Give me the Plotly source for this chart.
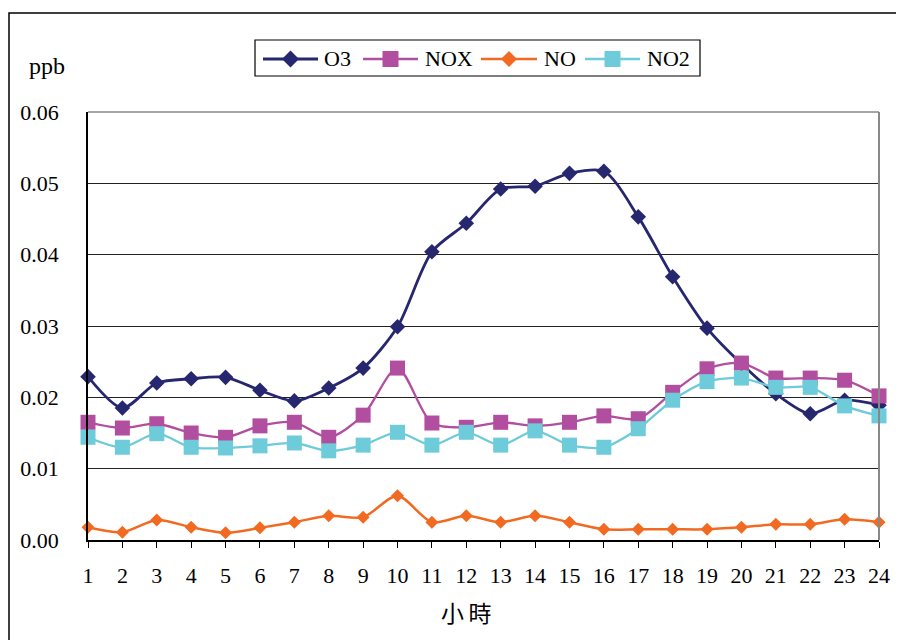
import plotly.graph_objects as go

hours = list(range(1, 25))
hour_labels = [str(h) for h in hours]
o3 = [0.0229, 0.0185, 0.0220, 0.0226, 0.0228, 0.0210, 0.0195, 0.0213, 0.0241, 0.0299,
      0.0404, 0.0444, 0.0492, 0.0496, 0.0514, 0.0517, 0.0453, 0.0369, 0.0297, 0.0247,
      0.0205, 0.0177, 0.0196, 0.0189]
nox = [0.0165, 0.0157, 0.0163, 0.0150, 0.0144, 0.0160, 0.0165, 0.0144, 0.0175, 0.0241,
       0.0164, 0.0158, 0.0165, 0.0160, 0.0165, 0.0174, 0.0170, 0.0207, 0.0240, 0.0248,
       0.0227, 0.0227, 0.0224, 0.0202]
no = [0.0018, 0.0011, 0.0028, 0.0018, 0.0010, 0.0017, 0.0025, 0.0034, 0.0032, 0.0062,
      0.0025, 0.0034, 0.0025, 0.0034, 0.0025, 0.0015, 0.0015, 0.0015, 0.0015, 0.0018,
      0.0022, 0.0022, 0.0029, 0.0025]
no2 = [0.0144, 0.0130, 0.0149, 0.0130, 0.0129, 0.0132, 0.0136, 0.0125, 0.0133, 0.0151,
       0.0133, 0.0151, 0.0133, 0.0153, 0.0133, 0.0130, 0.0156, 0.0196, 0.0222, 0.0227,
       0.0214, 0.0214, 0.0188, 0.0174]
y_ticks = [0.00, 0.01, 0.02, 0.03, 0.04, 0.05, 0.06]
y_tick_labels = ["0.00", "0.01", "0.02", "0.03", "0.04", "0.05", "0.06"]
series_names = ["O3", "NOX", "NO", "NO2"]

series = [
    (series_names[0], o3, "#27276f", "diamond", 12, 2.8),
    (series_names[1], nox, "#b24ea0", "square", 15, 2.3),
    (series_names[2], no, "#f26a22", "diamond", 10, 2.5),
    (series_names[3], no2, "#6ecbd9", "square", 15, 2.3),
]

# page body has an 8px margin: figure origin sits at (8, 8) of the screenshot
OFF = 8
W, H = 904 - OFF, 640 - OFF
L, R, T, B = 88 - OFF, 25, 112 - OFF, 100
pw = W - L - R
ph = H - T - B


def px(xp, yp):
    # screenshot pixel -> paper fraction
    return (xp - OFF - L) / pw, (H - B - (yp - OFF)) / ph


fig = go.Figure()
for name, vals, color, sym, size, lw in series:
    fig.add_trace(go.Scatter(
        x=hours, y=vals, name=name, mode="lines+markers",
        line=dict(color=color, width=lw, shape="spline", smoothing=0.8),
        marker=dict(symbol=sym, size=size, color=color),
        cliponaxis=False, showlegend=False,
    ))

serif = "Liberation Serif, Times New Roman, serif"
fig.update_layout(
    width=W, height=H,
    paper_bgcolor="white", plot_bgcolor="white",
    margin=dict(l=L, r=R, t=T, b=B),
    font=dict(family=serif, size=22, color="black"),
    showlegend=False,
    xaxis=dict(
        range=[1, 24], tickmode="array", tickvals=hours, ticktext=hour_labels,
        showgrid=False, zeroline=False,
        showline=True, linecolor="black", linewidth=1.5, mirror=False,
        ticks="outside", ticklen=6, tickcolor="black",
        ticklabelstandoff=9,
        tickfont=dict(family=serif, size=22),
    ),
    yaxis=dict(
        range=[0, 0.06], tickmode="array", tickvals=y_ticks, ticktext=y_tick_labels,
        showgrid=True, gridcolor="#222222", gridwidth=1, zeroline=False,
        showline=True, linecolor="black", linewidth=1.5,
        ticks="", ticklabelstandoff=23,
        tickfont=dict(family=serif, size=22),
    ),
)

ax, ay = px(47, 66)
bx, by = px(466, 612)
fig.add_annotation(text="ppb", x=ax, y=ay, xref="paper", yref="paper", showarrow=False,
                   xanchor="center", yanchor="middle", font=dict(family=serif, size=24))
fig.add_annotation(text="小\u2009時", x=bx, y=by, xref="paper", yref="paper", showarrow=False,
                   xanchor="center", yanchor="middle",
                   font=dict(family="Noto Sans CJK TC", size=23))

# plot-area right/top border and outer frame
fig.add_shape(type="line", xref="paper", yref="paper", x0=1, x1=1, y0=0, y1=1,
              line=dict(color="#888888", width=2))
fig.add_shape(type="line", xref="paper", yref="paper", x0=0, x1=1, y0=1, y1=1,
              line=dict(color="#888888", width=1.5))
fx0, fy0 = px(9, 13)
fx1, fy1 = px(915, 660)
fig.add_shape(type="rect", xref="paper", yref="paper", x0=fx0, x1=fx1, y0=fy1, y1=fy0,
              line=dict(color="black", width=1.5), layer="below")

# custom legend (Excel style: long line through marker)
bx0, by0 = px(255, 40)
bx1, by1 = px(700, 76)
fig.add_shape(type="rect", xref="paper", yref="paper", x0=bx0, x1=bx1, y0=by1, y1=by0,
              line=dict(color="black", width=1.2), fillcolor="white")
leg_y = 59
leg_items = [(263, 318, 322), (363, 418, 423), (481, 537, 542), (585, 640, 645)]
for (name, _, color, sym, size, lw), (x0p, x1p, tx) in zip(series, leg_items):
    lx0, ly = px(x0p, leg_y)
    lx1, _ = px(x1p, leg_y)
    fig.add_shape(type="line", xref="paper", yref="paper", x0=lx0, x1=lx1, y0=ly, y1=ly,
                  line=dict(color=color, width=lw))
    cx = (x0p + x1p) / 2
    if sym == "diamond":
        r = 8.5 if size >= 12 else 8
        pts = [px(cx, leg_y - r), px(cx + r, leg_y), px(cx, leg_y + r), px(cx - r, leg_y)]
        path = "M" + " L".join(f"{a},{b}" for a, b in pts) + " Z"
        fig.add_shape(type="path", xref="paper", yref="paper", path=path,
                      fillcolor=color, line=dict(color=color, width=0))
    else:
        h = 8
        qx0, qy0 = px(cx - h, leg_y - h)
        qx1, qy1 = px(cx + h, leg_y + h)
        fig.add_shape(type="rect", xref="paper", yref="paper", x0=qx0, x1=qx1, y0=qy1, y1=qy0,
                      fillcolor=color, line=dict(color=color, width=0))
    tpx, tpy = px(tx, leg_y)
    fig.add_annotation(text=name, x=tpx, y=tpy, xref="paper", yref="paper", showarrow=False,
                       xanchor="left", yanchor="middle", font=dict(family=serif, size=22))

fig.write_html("out.html")
